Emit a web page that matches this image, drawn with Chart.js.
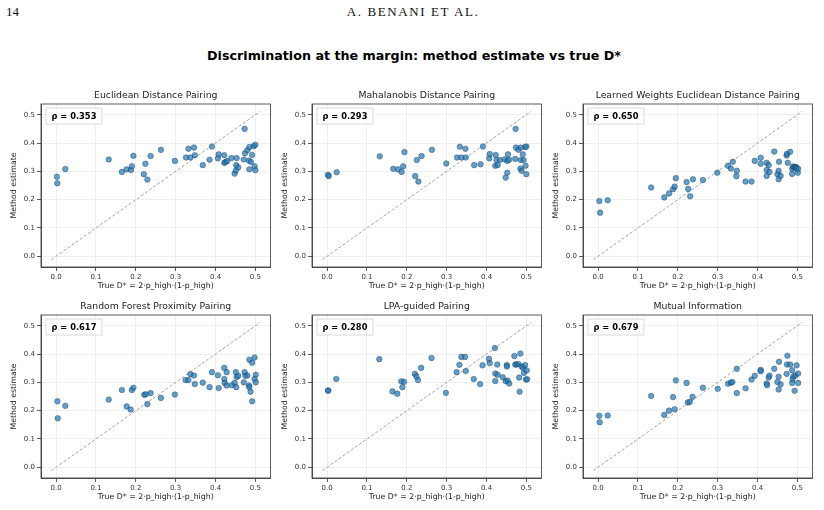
<!DOCTYPE html>
<html>
<head>
<meta charset="utf-8">
<script src="https://cdn.jsdelivr.net/npm/chart.js@4.4.1/dist/chart.umd.min.js"></script>
<style>
	body { margin: 0; width: 824px; height: 510px; background: #fff; position: relative; overflow: hidden; }
	.serif { position: absolute; top: 4px; font: 13px "Liberation Serif", "DejaVu Serif", serif; color: #111; line-height: 16px; }
	#pageNum { left: 6px; }
	#runHead { left: 0; width: 826px; text-align: center; letter-spacing: 1.6px; }
	#mainTitle { position: absolute; left: 0; top: 48px; width: 828px; text-align: center; font: bold 12.7px "DejaVu Sans", sans-serif; color: #000; line-height: 16px; }
	canvas { position: absolute; }
</style>
</head>
<body>
<div class="serif" id="pageNum">14</div>
<div class="serif" id="runHead">A. BENANI ET AL.</div>
<div id="mainTitle">Discrimination at the margin: method estimate vs true D*</div>

<canvas id="panel0"></canvas>
<canvas id="panel1"></canvas>
<canvas id="panel2"></canvas>
<canvas id="panel3"></canvas>
<canvas id="panel4"></canvas>
<canvas id="panel5"></canvas>

<script>
// panel titles and Spearman rho, in figure order
const methodNames = ['Euclidean Distance Pairing', 'Mahalanobis Distance Pairing', 'Learned Weights Euclidean Distance Pairing',
	'Random Forest Proximity Pairing', 'LPA-guided Pairing', 'Mutual Information'];
const rhoValues = [0.353, 0.293, 0.650, 0.617, 0.280, 0.679];

const tickVals = [0.0, 0.1, 0.2, 0.3, 0.4, 0.5];
const diagEnds = [-0.012, 0.512];

// [true D*, method estimate]
const euclideanPts = [[0.002,0.281],[0.003,0.258],[0.023,0.308],[0.132,0.342],[0.165,0.298],[0.177,0.307],[0.188,0.305],[0.190,0.318],[0.194,0.355],[0.220,0.290],[0.224,0.327],[0.229,0.271],[0.237,0.354],[0.263,0.376],[0.298,0.337],[0.326,0.349],[0.332,0.380],[0.337,0.349],[0.346,0.384],[0.348,0.357],[0.368,0.322],[0.385,0.341],[0.391,0.388],[0.406,0.346],[0.408,0.360],[0.422,0.330],[0.422,0.357],[0.425,0.333],[0.429,0.336],[0.440,0.347],[0.448,0.292],[0.451,0.303],[0.452,0.322],[0.453,0.347],[0.457,0.314],[0.471,0.342],[0.473,0.450],[0.474,0.364],[0.480,0.375],[0.485,0.386],[0.484,0.338],[0.485,0.307],[0.489,0.333],[0.492,0.358],[0.496,0.389],[0.498,0.318],[0.500,0.394],[0.500,0.304]];
const mahalanobisPts = [[0.002,0.288],[0.004,0.283],[0.024,0.297],[0.132,0.353],[0.166,0.309],[0.178,0.307],[0.187,0.298],[0.191,0.318],[0.194,0.368],[0.221,0.283],[0.225,0.340],[0.229,0.264],[0.237,0.354],[0.263,0.376],[0.299,0.328],[0.326,0.349],[0.333,0.387],[0.337,0.349],[0.347,0.380],[0.348,0.349],[0.369,0.322],[0.385,0.325],[0.391,0.388],[0.407,0.346],[0.408,0.361],[0.422,0.320],[0.423,0.358],[0.425,0.340],[0.428,0.322],[0.434,0.340],[0.446,0.343],[0.448,0.278],[0.452,0.295],[0.452,0.337],[0.454,0.360],[0.457,0.341],[0.472,0.344],[0.473,0.450],[0.474,0.384],[0.480,0.376],[0.485,0.310],[0.486,0.340],[0.486,0.384],[0.488,0.302],[0.491,0.360],[0.493,0.340],[0.497,0.386],[0.498,0.320],[0.500,0.388],[0.500,0.290]];
const learnedPts = [[0.003,0.195],[0.005,0.154],[0.024,0.198],[0.133,0.243],[0.166,0.208],[0.178,0.222],[0.188,0.237],[0.192,0.246],[0.195,0.276],[0.222,0.262],[0.226,0.238],[0.231,0.212],[0.238,0.272],[0.263,0.269],[0.299,0.295],[0.326,0.320],[0.333,0.310],[0.338,0.334],[0.347,0.283],[0.348,0.302],[0.370,0.264],[0.385,0.264],[0.393,0.337],[0.408,0.348],[0.408,0.327],[0.423,0.284],[0.423,0.305],[0.423,0.330],[0.428,0.322],[0.430,0.298],[0.442,0.370],[0.450,0.290],[0.453,0.272],[0.453,0.302],[0.454,0.334],[0.458,0.284],[0.473,0.356],[0.474,0.362],[0.476,0.330],[0.482,0.369],[0.487,0.309],[0.487,0.291],[0.489,0.317],[0.492,0.315],[0.494,0.316],[0.497,0.315],[0.498,0.311],[0.501,0.295],[0.502,0.309]];
const forestPts = [[0.003,0.233],[0.004,0.173],[0.023,0.217],[0.132,0.239],[0.165,0.273],[0.177,0.215],[0.187,0.204],[0.190,0.273],[0.194,0.281],[0.221,0.256],[0.225,0.258],[0.229,0.223],[0.237,0.262],[0.263,0.245],[0.298,0.257],[0.325,0.308],[0.332,0.308],[0.337,0.329],[0.346,0.324],[0.348,0.294],[0.368,0.299],[0.385,0.283],[0.391,0.336],[0.406,0.325],[0.408,0.280],[0.422,0.351],[0.422,0.312],[0.423,0.298],[0.428,0.289],[0.428,0.336],[0.441,0.290],[0.448,0.298],[0.451,0.336],[0.452,0.283],[0.453,0.319],[0.457,0.323],[0.471,0.300],[0.473,0.336],[0.475,0.323],[0.480,0.324],[0.484,0.289],[0.485,0.283],[0.485,0.380],[0.488,0.267],[0.492,0.369],[0.492,0.233],[0.498,0.388],[0.498,0.312],[0.501,0.327],[0.501,0.300]];
const lpaPts = [[0.002,0.271],[0.003,0.271],[0.023,0.312],[0.131,0.382],[0.164,0.268],[0.176,0.260],[0.186,0.304],[0.189,0.283],[0.193,0.302],[0.220,0.330],[0.224,0.321],[0.228,0.308],[0.236,0.351],[0.262,0.386],[0.298,0.263],[0.325,0.336],[0.332,0.362],[0.337,0.390],[0.346,0.390],[0.348,0.340],[0.368,0.312],[0.384,0.294],[0.390,0.360],[0.406,0.383],[0.408,0.368],[0.421,0.421],[0.422,0.331],[0.422,0.305],[0.427,0.363],[0.428,0.327],[0.441,0.318],[0.448,0.304],[0.451,0.361],[0.451,0.356],[0.453,0.306],[0.457,0.296],[0.470,0.393],[0.472,0.363],[0.475,0.363],[0.480,0.365],[0.482,0.317],[0.483,0.267],[0.485,0.402],[0.488,0.356],[0.492,0.351],[0.494,0.333],[0.497,0.361],[0.499,0.310],[0.501,0.342],[0.502,0.311]];
const mutualInfoPts = [[0.003,0.182],[0.004,0.159],[0.024,0.183],[0.133,0.252],[0.166,0.185],[0.178,0.200],[0.188,0.248],[0.192,0.205],[0.195,0.307],[0.222,0.298],[0.225,0.229],[0.230,0.231],[0.237,0.249],[0.263,0.281],[0.300,0.277],[0.326,0.295],[0.333,0.299],[0.337,0.301],[0.348,0.348],[0.348,0.262],[0.370,0.279],[0.385,0.310],[0.393,0.323],[0.408,0.344],[0.408,0.339],[0.423,0.296],[0.424,0.290],[0.428,0.317],[0.430,0.324],[0.442,0.348],[0.450,0.301],[0.453,0.275],[0.453,0.320],[0.454,0.373],[0.458,0.293],[0.473,0.330],[0.475,0.394],[0.474,0.363],[0.482,0.363],[0.487,0.343],[0.487,0.298],[0.488,0.312],[0.490,0.321],[0.493,0.270],[0.495,0.324],[0.498,0.360],[0.502,0.298],[0.502,0.331]];

const allPts = [euclideanPts, mahalanobisPts, learnedPts, forestPts, lpaPts, mutualInfoPts];

const FONT = '"DejaVu Sans", sans-serif';
const AXIS = '#333';

// subplot title, rho box and full frame round the plot area
const panelDeco = {
	id: 'panelDeco',
	afterDatasetsDraw(chart, args, opts) {
		const { ctx, chartArea: a } = chart;
		ctx.save();
		ctx.strokeStyle = AXIS;
		ctx.lineWidth = 0.8;
		ctx.strokeRect(a.left, a.top, a.width, a.height);

		ctx.fillStyle = '#222';
		ctx.font = '9.3px ' + FONT;
		ctx.textAlign = 'center';
		ctx.textBaseline = 'middle';
		ctx.fillText(opts.title, (a.left + a.right) / 2, a.top - 8);

		ctx.font = 'bold 8.3px ' + FONT;
		const txt = 'ρ = ' + opts.rho.toFixed(3);
		const w = ctx.measureText(txt).width;
		ctx.fillStyle = 'rgba(255,255,255,0.85)';
		ctx.strokeStyle = '#cfcfcf';
		ctx.fillRect(a.left + 5, a.top + 4, w + 11, 16);
		ctx.strokeRect(a.left + 5, a.top + 4, w + 11, 16);
		ctx.fillStyle = '#000';
		ctx.textAlign = 'left';
		ctx.fillText(txt, a.left + 10.5, a.top + 12.5);
		ctx.restore();
	}
};

function axisOpts(isX) {
	return {
		type: 'linear',
		min: -0.038,
		max: 0.538,
		afterBuildTicks: s => { s.ticks = tickVals.map(v => ({ value: v })); },
		afterFit: s => { if (isX) s.height = 30; else s.width = 41; },
		ticks: { font: { size: 7, family: FONT }, color: AXIS, padding: 2, callback: v => v.toFixed(1) },
		grid: { color: '#ebebeb', lineWidth: 0.8, tickColor: AXIS, tickLength: 4, tickWidth: 0.8 },
		border: { color: AXIS, width: 0.8 },
		title: {
			display: true,
			text: isX ? 'True D* = 2·p_high·(1-p_high)' : 'Method estimate',
			font: { size: 7.8, family: FONT },
			color: '#222',
			padding: isX ? { top: 0, bottom: 6 } : { top: 9, bottom: 0 }
		}
	};
}

allPts.forEach((pts, i) => {
	const canvas = document.getElementById('panel' + i);
	const col = i % 3, row = Math.floor(i / 3);
	canvas.width = 275;
	canvas.height = 211;
	canvas.style.left = (271 * col) + 'px';
	canvas.style.top = (86 + 211 * row) + 'px';

	new Chart(canvas.getContext('2d'), {
		type: 'scatter',
		data: {
			datasets: [{
				data: pts.map(p => ({ x: p[0], y: p[1] })),
				pointRadius: 2.8,
				backgroundColor: 'rgba(31, 119, 180, 0.7)',
				borderColor: 'rgba(25, 45, 75, 0.75)',
				borderWidth: 0.5
			}, {
				type: 'line',
				data: diagEnds.map(v => ({ x: v, y: v })),
				borderColor: '#8c8c8c',
				borderWidth: 0.8,
				borderDash: [3, 2],
				pointRadius: 0,
				fill: false
			}]
		},
		options: {
			responsive: false,
			animation: false,
			layout: { padding: { top: 18, right: 4, left: 0, bottom: 0 } },
			scales: { x: axisOpts(true), y: axisOpts(false) },
			plugins: {
				legend: { display: false },
				tooltip: { enabled: false },
				panelDeco: { title: methodNames[i], rho: rhoValues[i] }
			}
		},
		plugins: [panelDeco]
	});
});
</script>
</body>
</html>
